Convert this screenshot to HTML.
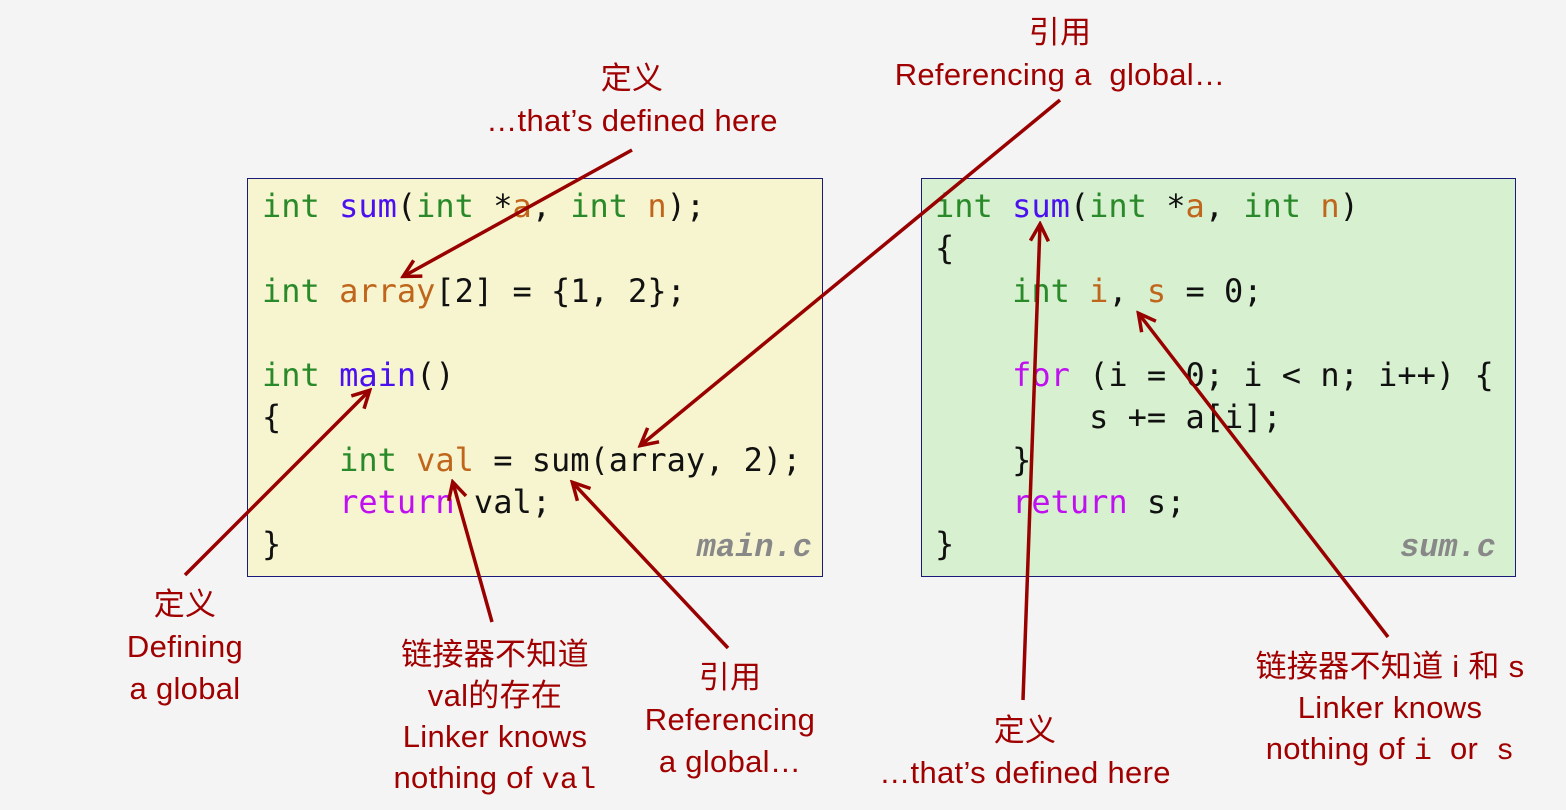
<!DOCTYPE html>
<html><head><meta charset="utf-8"><style>
body{margin:0;width:1566px;height:810px;background:#f4f4f4;position:relative;overflow:hidden;font-family:"Liberation Sans","Noto Sans CJK SC",sans-serif}
.box{position:absolute;border:1px solid #1a1a7a;box-sizing:border-box}
pre{position:absolute;margin:0;font-family:"DejaVu Sans Mono","Liberation Mono",monospace;font-size:32px;line-height:42.3px;color:#111}
.k{color:#2a8a2a}.f{color:#4a10f0}.v{color:#c0661c}.r{color:#c010f0}
.fn{position:absolute;font-family:"Liberation Mono",monospace;font-weight:bold;font-style:italic;color:#888;font-size:32px;text-align:right;width:200px}
.t{position:absolute;color:#a00000;font-size:31px;text-align:center;line-height:42px;white-space:nowrap;letter-spacing:0.3px}
.t code{font-family:"Liberation Mono",monospace;font-size:30px}
</style></head><body>
<div class="box" style="left:247px;top:178px;width:576px;height:399px;background:#f7f5d0"></div>
<div class="box" style="left:921px;top:178px;width:595px;height:399px;background:#d6f0d0"></div>
<pre style="left:262px;top:185px"><span class="k">int</span> <span class="f">sum</span>(<span class="k">int</span> *<span class="v">a</span>, <span class="k">int</span> <span class="v">n</span>);

<span class="k">int</span> <span class="v">array</span>[2] = {1, 2};

<span class="k">int</span> <span class="f">main</span>()
{
    <span class="k">int</span> <span class="v">val</span> = sum(array, 2);
    <span class="r">return</span> val;
}</pre>
<div class="fn" style="left:612px;top:529px">main.c</div>
<pre style="left:935px;top:185px"><span class="k">int</span> <span class="f">sum</span>(<span class="k">int</span> *<span class="v">a</span>, <span class="k">int</span> <span class="v">n</span>)
{
    <span class="k">int</span> <span class="v">i</span>, <span class="v">s</span> = 0;

    <span class="r">for</span> (i = 0; i &lt; n; i++) {
        s += a[i];
    }
    <span class="r">return</span> s;
}</pre>
<div class="fn" style="left:1296px;top:529px">sum.c</div>

<div class="t" style="left:472px;top:58px;width:320px">定义<br>…that’s defined here</div>
<div class="t" style="left:880px;top:12px;width:360px">引用<br>Referencing a&nbsp; global…</div>
<div class="t" style="left:95px;top:584px;width:180px">定义<br>Defining<br>a global</div>
<div class="t" style="left:365px;top:634px;width:260px;line-height:41px">链接器不知道<br>val的存在<br>Linker knows<br>nothing of <code>val</code></div>
<div class="t" style="left:620px;top:657px;width:220px">引用<br>Referencing<br>a global…</div>
<div class="t" style="left:860px;top:710px;width:330px">定义<br>…that’s defined here</div>
<div class="t" style="left:1220px;top:646px;width:340px;line-height:41px">链接器不知道 i 和 s<br>Linker knows<br>nothing of <code>i</code>&nbsp; or&nbsp; <code>s</code></div>

<svg width="1566" height="810" style="position:absolute;left:0;top:0">
<defs>
<marker id="b" markerWidth="22" markerHeight="22" refX="18" refY="11" orient="auto" markerUnits="userSpaceOnUse"><path d="M2,2 L19,11 L2,20" fill="none" stroke="#990000" stroke-width="3.5"/></marker></defs>
<g stroke="#990000" stroke-width="3.5" fill="none" marker-end="url(#b)">
<line x1="632" y1="150" x2="404" y2="276"/>
<line x1="1060" y1="100" x2="641" y2="445"/>
<line x1="185" y1="575" x2="369" y2="391"/>
<line x1="492" y1="622" x2="453" y2="483"/>
<line x1="728" y1="648" x2="573" y2="483"/>
<line x1="1023" y1="700" x2="1040" y2="225"/>
<line x1="1388" y1="637" x2="1139" y2="314"/>
</g></svg>
</body></html>
